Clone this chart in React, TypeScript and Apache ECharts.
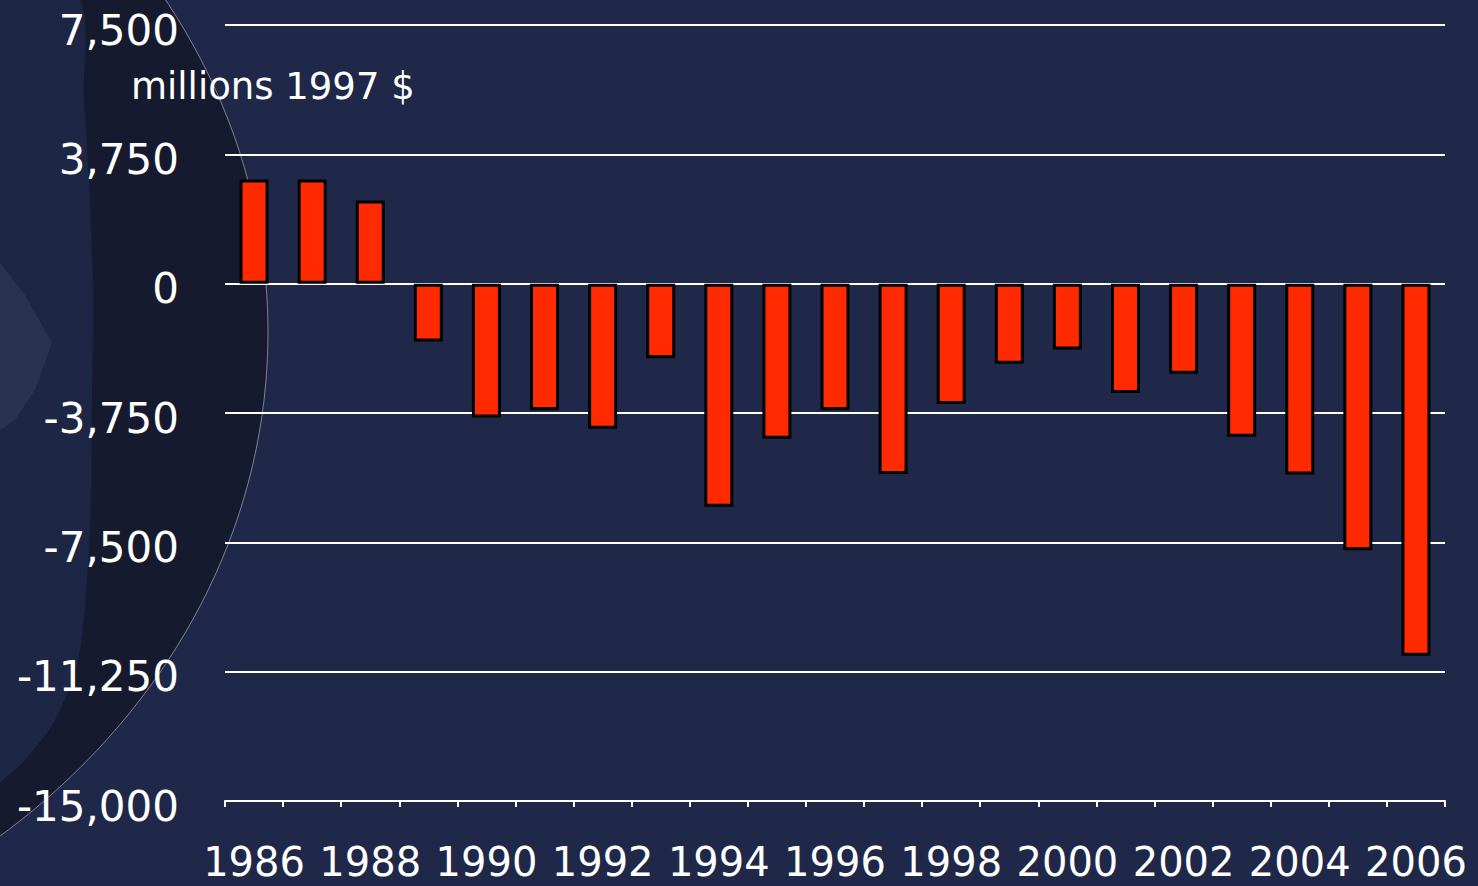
import React, { useEffect, useRef } from "react";
import * as echarts from "echarts";

// ---- data ----
const years: string[] = [
  "1986", "1987", "1988", "1989", "1990", "1991", "1992", "1993", "1994", "1995", "1996",
  "1997", "1998", "1999", "2000", "2001", "2002", "2003", "2004", "2005", "2006",
];
const balance: number[] = [
  3020, 3020, 2410, -1680, -3880, -3660, -4210, -2160, -6470, -4500, -3660,
  -5520, -3490, -2320, -1910, -3170, -2610, -4440, -5530, -7730, -10790,
];
const yMin = -15000;
const yMax = 7500;
const yStep = 3750;
const unitLabel = "millions 1997 $";

const FONT = "'DejaVu Sans', Verdana, sans-serif";

export default function App() {
  const ref = useRef<HTMLDivElement>(null);

  useEffect(() => {
    if (!ref.current) return;
    const chart = echarts.init(ref.current, undefined, { renderer: "svg" });
    chart.setOption({
      animation: false,
      backgroundColor: "#202849",
      graphic: [
        {
          type: "ellipse",
          z: -20,
          silent: true,
          shape: { cx: -482, cy: 332, rx: 750, ry: 658 },
          style: { fill: "#161a2e", stroke: "rgba(170,170,180,0.7)", lineWidth: 1 },
        },
        {
          type: "polygon",
          z: -19,
          silent: true,
          shape: {
            points: [
              [-5, -5], [77, -5], [84, 100], [90, 200], [93, 300], [92, 400], [91, 500],
              [87, 580], [78, 660], [55, 720], [25, 760], [0, 783], [-5, 790],
            ],
            smooth: 0.3,
          },
          style: { fill: "#1e2645" },
        },
        {
          type: "polygon",
          z: -18,
          silent: true,
          shape: {
            points: [[-5, 258], [0, 263], [25, 295], [52, 343], [35, 390], [15, 420], [0, 430], [-5, 432]],
          },
          style: { fill: "#283251" },
        },
        {
          type: "text",
          z: 100,
          x: 131,
          y: 68,
          style: {
            text: unitLabel,
            fill: "#ffffff",
            fontSize: 37,
            fontFamily: FONT,
            verticalAlign: "top",
          },
        },
      ],
      grid: { left: 225, right: 33, top: 25, bottom: 85, containLabel: false },
      xAxis: {
        type: "category",
        data: years,
        boundaryGap: true,
        axisLine: { onZero: false, lineStyle: { color: "#ffffff", width: 2 } },
        axisTick: { show: true, interval: 0, length: 6, lineStyle: { color: "#ffffff", width: 2 } },
        axisLabel: {
          interval: 1,
          color: "#ffffff",
          fontSize: 40,
          fontFamily: FONT,
          lineHeight: 34,
          margin: 44,
          hideOverlap: false,
        },
        splitLine: { show: false },
      },
      yAxis: {
        type: "value",
        min: yMin,
        max: yMax,
        interval: yStep,
        axisLine: { show: false },
        axisTick: { show: false },
        splitLine: { lineStyle: { color: "#ffffff", width: 2 } },
        axisLabel: {
          color: "#ffffff",
          fontSize: 42,
          fontFamily: FONT,
          margin: 46,
          verticalAlign: "top",
          lineHeight: 10,
          formatter: (v: number) => v.toLocaleString("en-US"),
        },
      },
      series: [
        {
          type: "bar",
          data: balance,
          barWidth: 29,
          itemStyle: { color: "#ff2a00", borderColor: "#000000", borderWidth: 3 },
        },
      ],
    });
    return () => chart.dispose();
  }, []);

  return (
    <div
      ref={ref}
      style={{ position: "fixed", left: 0, top: 0, width: 1478, height: 886 }}
    />
  );
}
